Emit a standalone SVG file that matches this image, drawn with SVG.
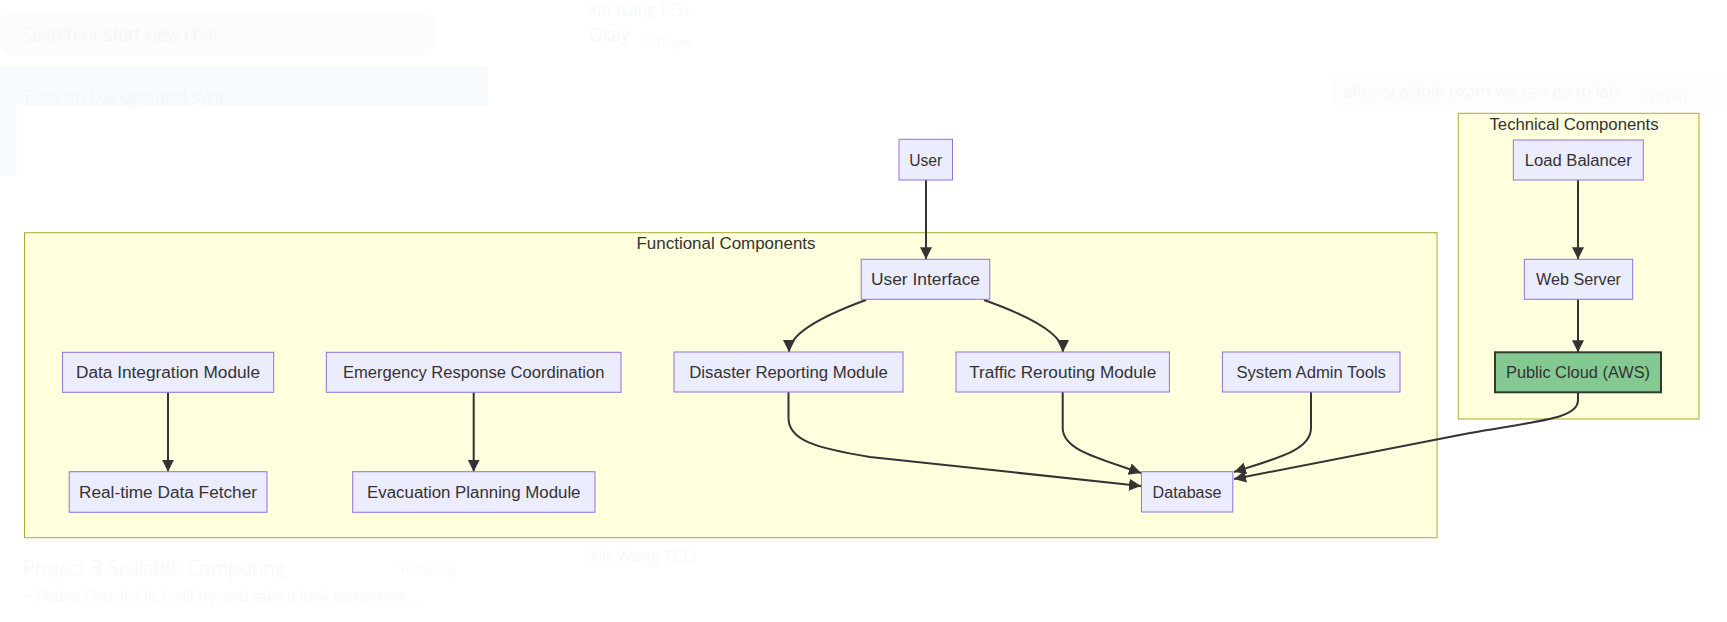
<svg xmlns="http://www.w3.org/2000/svg" width="1727" height="622" viewBox="0 0 1727 622">
<defs>
<style>
.bgt{font-family:"Open Sans","Liberation Sans",sans-serif;font-weight:300}
.cl{fill:#ffffde;stroke:#aaaa33;stroke-width:1}
.cll{font-family:"Liberation Sans",Arial,sans-serif;font-size:16px;fill:#333;text-anchor:middle}
.nd{fill:#ececff;stroke:#9370db;stroke-width:1}
.ndg{fill:#84c991;stroke:#2d3d2d;stroke-width:2}
.lb{font-family:"Liberation Sans",Arial,sans-serif;font-size:16px;fill:#333;text-anchor:middle}
.ed{fill:none;stroke:#333;stroke-width:2;marker-end:url(#arr)}
</style>
<marker id="arr" viewBox="0 0 10 10" refX="10" refY="5" markerWidth="12" markerHeight="12" markerUnits="userSpaceOnUse" orient="auto">
<path d="M0,0 L10,5 L0,10 z" fill="#333"/>
</marker>
</defs>
<rect x="0" y="0" width="1727" height="622" fill="#ffffff"/>
<g id="background">
<rect x="0" y="13" width="435" height="42" rx="12" fill="#fcfcfc"/>
<rect x="0" y="65.7" width="488" height="39.3" fill="#f8fbfe"/>
<rect x="0" y="105" width="16.5" height="71" fill="#f8fbfe"/>
<rect x="1333" y="75" width="394" height="30" fill="#fdfdfd"/>
<text class="bgt" x="22" y="41" font-size="18" fill="#f4f4f4">Search or start new chat</text>
<text class="bgt" x="22" y="103" font-size="18" fill="#f1f4f6">Turn on background sync</text>
<text class="bgt" x="589" y="16" font-size="16" fill="#f0f8f5">Xin Wang TCD</text>
<text class="bgt" x="589" y="40.5" font-size="18" fill="#f4f4f4">Okay</text>
<text class="bgt" x="644" y="47" font-size="13" fill="#f6f6f6">1:10 pm</text>
<text class="bgt" x="1343" y="96.7" font-size="17" fill="#f6f6f6">after scalable exam we can go to lab</text>
<text class="bgt" x="1638" y="102" font-size="13" fill="#f6f6f6">1:10 pm</text>
<text class="bgt" x="23" y="575" font-size="20" fill="#f6f6f6">Project 3 Scalable Computing</text>
<text class="bgt" x="399" y="574" font-size="13" fill="#f7f7f7">Yesterday</text>
<text class="bgt" x="23" y="601.7" font-size="16" fill="#f6f6f6">~ Pedro Corral: Ok, I will try and take a look tomorrow ...</text>
<text class="bgt" x="589" y="561.7" font-size="17" fill="#f1f8f6">Xin Wang TCD</text>
</g>
<g id="functional-components">
<rect class="cl" x="24.5" y="232.7" width="1412.5" height="305"/>
<text class="cll" x="726" y="249" textLength="179" lengthAdjust="spacingAndGlyphs">Functional Components</text>
</g>
<g id="technical-components">
<rect class="cl" x="1458.3" y="113.3" width="240.7" height="305.7"/>
<text class="cll" x="1574" y="130" textLength="169" lengthAdjust="spacingAndGlyphs">Technical Components</text>
</g>
<g id="connectors">
<path class="ed" d="M926,180 L926,259.3"/>
<path class="ed" d="M866,300 Q789,328 789,352"/>
<path class="ed" d="M984,300 Q1063,328 1063,352"/>
<path class="ed" d="M168,392.3 L168,471.7"/>
<path class="ed" d="M473.7,392.3 L473.7,471.7"/>
<path class="ed" d="M788.5,392 L788.5,418 C788.5,440 815,448 870,457 L1141,486"/>
<path class="ed" d="M1062.7,392 L1062.7,428 C1062.7,450 1098,458 1141,473"/>
<path class="ed" d="M1311,392 L1311,428 C1311,450 1278,458 1234,472"/>
<path class="ed" d="M1578,180 L1578,259.3"/>
<path class="ed" d="M1578,299.3 L1578,352.3"/>
<path class="ed" d="M1578,392.3 L1578,400 C1578,418 1545,420 1470,433 L1234,479"/>
</g>
<g id="user">
<rect class="nd" x="899" y="139.3" width="53.5" height="40.7"/>
<text class="lb" x="925.7" y="165.5" textLength="33" lengthAdjust="spacingAndGlyphs">User</text>
</g>
<g id="user-interface">
<rect class="nd" x="861.2" y="259.3" width="128.6" height="40"/>
<text class="lb" x="925.5" y="285" textLength="109" lengthAdjust="spacingAndGlyphs">User Interface</text>
</g>
<g id="data-integration-module">
<rect class="nd" x="62.5" y="352.3" width="211.2" height="40"/>
<text class="lb" x="168" y="378" textLength="184" lengthAdjust="spacingAndGlyphs">Data Integration Module</text>
</g>
<g id="real-time-data-fetcher">
<rect class="nd" x="69.2" y="471.7" width="197.8" height="40.6"/>
<text class="lb" x="168" y="497.5" textLength="178" lengthAdjust="spacingAndGlyphs">Real-time Data Fetcher</text>
</g>
<g id="emergency-response-coordination">
<rect class="nd" x="326.3" y="352.3" width="294.7" height="40"/>
<text class="lb" x="473.7" y="378" textLength="261.6" lengthAdjust="spacingAndGlyphs">Emergency Response Coordination</text>
</g>
<g id="evacuation-planning-module">
<rect class="nd" x="352.7" y="471.7" width="242.3" height="40.6"/>
<text class="lb" x="473.8" y="497.5" textLength="213.4" lengthAdjust="spacingAndGlyphs">Evacuation Planning Module</text>
</g>
<g id="disaster-reporting-module">
<rect class="nd" x="674" y="352" width="229" height="40"/>
<text class="lb" x="788.5" y="378" textLength="198.5" lengthAdjust="spacingAndGlyphs">Disaster Reporting Module</text>
</g>
<g id="traffic-rerouting-module">
<rect class="nd" x="956" y="352" width="213.4" height="40"/>
<text class="lb" x="1062.7" y="378" textLength="187" lengthAdjust="spacingAndGlyphs">Traffic Rerouting Module</text>
</g>
<g id="system-admin-tools">
<rect class="nd" x="1222.4" y="352" width="177.6" height="40"/>
<text class="lb" x="1311.2" y="378" textLength="149.5" lengthAdjust="spacingAndGlyphs">System Admin Tools</text>
</g>
<g id="database">
<rect class="nd" x="1141.5" y="471.7" width="91.3" height="40.3"/>
<text class="lb" x="1187.1" y="497.5" textLength="69" lengthAdjust="spacingAndGlyphs">Database</text>
</g>
<g id="load-balancer">
<rect class="nd" x="1513.3" y="140" width="130" height="40"/>
<text class="lb" x="1578.3" y="165.8" textLength="107" lengthAdjust="spacingAndGlyphs">Load Balancer</text>
</g>
<g id="web-server">
<rect class="nd" x="1524.3" y="259.3" width="108.4" height="40"/>
<text class="lb" x="1578.5" y="285" textLength="85" lengthAdjust="spacingAndGlyphs">Web Server</text>
</g>
<g id="public-cloud">
<rect class="ndg" x="1495" y="352.3" width="166" height="40"/>
<text class="lb" x="1578" y="378" textLength="144" lengthAdjust="spacingAndGlyphs">Public Cloud (AWS)</text>
</g>
</svg>
